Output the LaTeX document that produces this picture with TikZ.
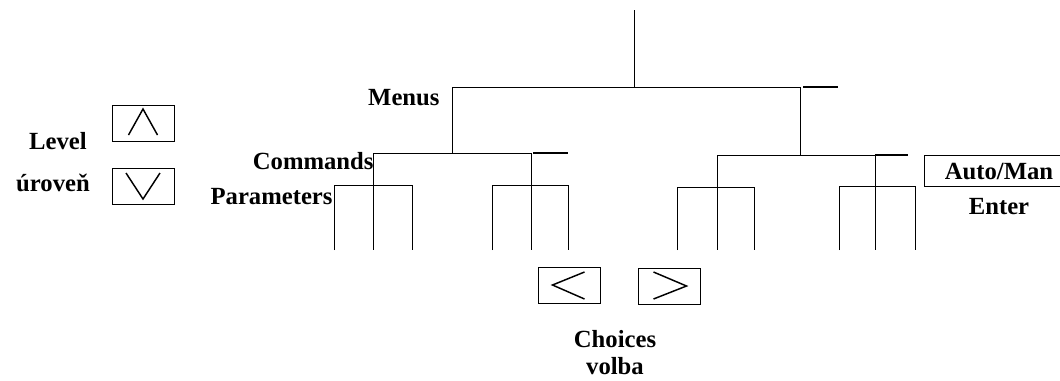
\documentclass[tikz,border=0pt]{standalone}
\usepackage{fontspec}
\setmainfont{Liberation Serif}
\usetikzlibrary{positioning}

\begin{document}
\begin{tikzpicture}[x=0.75pt,y=-0.75pt,line width=0.75pt]
  \tikzstyle{lbl}=[font=\fontsize{18.5}{22}\selectfont\bfseries, inner sep=0pt]
  \tikzstyle{key}=[draw, minimum width=46.5pt, minimum height=27pt, inner sep=0pt]
  \tikzstyle{chev}=[line width=1.1pt]
  \tikzstyle{bar}=[line width=2.2pt]
  \useasboundingbox (0,0) rectangle (1060,380);

  % keys
  \node[key] (up)    at (143,123) {};
  \node[key] (down)  at (143,186) {};
  \node[key] (left)  at (569.5,285) {};
  \node[key] (right) at (669.5,286) {};
  \node[key, minimum width=111pt, minimum height=23.25pt] (auto) at (998,170.5) {};

  \draw[chev, shift={(up.center)}]    (-14.5,12) -- (0,-14) -- (14.5,12);
  \draw[chev, shift={(down.center)}]  (-17,-13) -- (0,13) -- (17,-13);
  \draw[chev, shift={(left.center)}]  (15,-13) -- (-17,0) -- (15,14);
  \draw[chev, shift={(right.center)}] (-16,-14) -- (17,0) -- (-16,13);

  % labels
  \node[lbl, anchor=base]      (level)  at (58,149)  {Level};
  \node[lbl, anchor=base]      (urov)   at (53,191)  {úroveň};
  \node[lbl, anchor=base east] (menus)  at (440,105) {Menus};
  \node[lbl, anchor=base east] (cmds)   at (374,169) {Commands};
  \node[lbl, anchor=base east] (params) at (333,204) {Parameters};
  \node[lbl, anchor=base]      (choice) at (615,347) {Choices};
  \node[lbl, anchor=base]      (volba)  at (615,374) {volba};
  \node[lbl, anchor=base]      (am)     at (999,179) {Auto/Man};
  \node[lbl, anchor=base]      (enter)  at (999,214) {Enter};

  % menu tree
  \coordinate (top)  at (634,10);
  \coordinate (menu) at (634,87);
  \coordinate (cmdL) at (452,153);
  \coordinate (cmdR) at (800,155);

  \draw (top) -- (menu);
  \draw (cmdL) -- (cmdL |- menu) -- (cmdR |- menu) -- (cmdR);
  \draw[bar] (803,87) -- (838,87);

  \draw (373,153) -- (531,153);
  \draw[bar] (533,153) -- (568,153);
  \draw (717,155) -- (875,155);
  \draw[bar] (875,155) -- (908,155);

  \foreach \c/\l/\r/\t/\s in {373/334/412/185/153, 531/492/568/185/153,
                             717/677/754/187/155, 875/839/915/186/155} {
    \draw (\l,250) -- (\l,\t) -- (\r,\t) -- (\r,250);
    \draw (\c,\s) -- (\c,250);
  }
\end{tikzpicture}
\end{document}
